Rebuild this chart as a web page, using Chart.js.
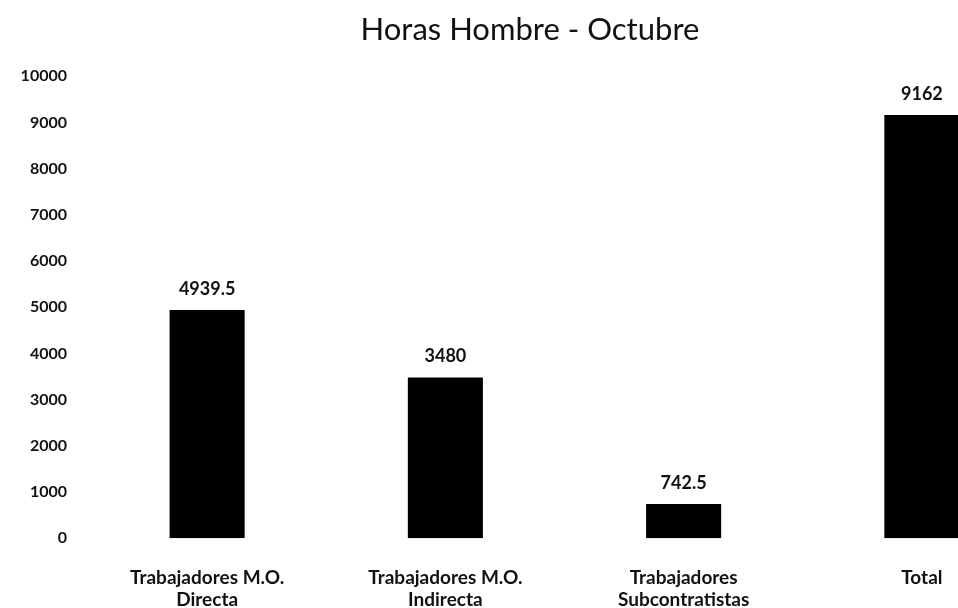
<!DOCTYPE html>
<html lang="es">
<head>
    <meta charset="UTF-8">
    <title>Horas Hombre - Octubre</title>
    <script src="https://cdn.jsdelivr.net/npm/chart.js"></script>
    <style>
        html, body { margin: 0; padding: 0; background: #fff; overflow: hidden; }
        #wrap { width: 1060px; height: 640px; }
    </style>
</head>
<body>
    <div id="wrap"><canvas id="horasChart"></canvas></div>

    <script>
        // datos
        const categorias = [
            ['Trabajadores M.O.', 'Directa'],
            ['Trabajadores M.O.', 'Indirecta'],
            ['Trabajadores', 'Subcontratistas'],
            'Total'
        ];
        const horas = [4939.5, 3480, 742.5, 9162];
        const yTicks = [0, 1000, 2000, 3000, 4000, 5000, 6000, 7000, 8000, 9000, 10000];

        const fuente = "Lato, 'Open Sans', sans-serif";

        // etiquetas de valor encima de cada barra
        const etiquetas = {
            id: 'etiquetas',
            afterDatasetsDraw(chart) {
                const ctx = chart.ctx;
                const meta = chart.getDatasetMeta(0);
                ctx.save();
                ctx.font = 'bold 18px ' + fuente;
                ctx.fillStyle = '#111';
                ctx.textAlign = 'center';
                ctx.textBaseline = 'bottom';
                meta.data.forEach((bar, i) => {
                    ctx.fillText(String(horas[i]), bar.x, bar.y - 12);
                });
                ctx.restore();
            }
        };

        new Chart(document.getElementById('horasChart'), {
            type: 'bar',
            data: {
                labels: categorias,
                datasets: [{
                    data: horas,
                    backgroundColor: '#000',
                    borderWidth: 0,
                    barPercentage: 0.315,
                    categoryPercentage: 1
                }]
            },
            options: {
                responsive: true,
                maintainAspectRatio: false,
                animation: false,
                layout: { padding: { left: 19, right: 19, top: 0, bottom: 0 } },
                plugins: {
                    legend: { display: false },
                    tooltip: { enabled: false },
                    title: {
                        display: true,
                        text: 'Horas Hombre - Octubre',
                        color: '#111',
                        font: { family: fuente, size: 31, weight: 'normal', lineHeight: 1.2 },
                        padding: { top: 11, bottom: 28 }
                    }
                },
                scales: {
                    x: {
                        grid: { display: false, drawTicks: false },
                        border: { display: false },
                        ticks: {
                            color: '#111',
                            padding: 29,
                            maxRotation: 0,
                            font: { family: fuente, size: 19, weight: 'bold', lineHeight: 1.15 }
                        }
                    },
                    y: {
                        min: yTicks[0],
                        max: yTicks[yTicks.length - 1],
                        grid: { display: false, drawTicks: false },
                        border: { display: false },
                        afterBuildTicks(axis) {
                            axis.ticks = yTicks.map(v => ({ value: v }));
                        },
                        afterFit(axis) {
                            axis.width = 69;
                        },
                        ticks: {
                            color: '#111',
                            padding: 21,
                            font: { family: fuente, size: 16, weight: 'bold' },
                            callback: v => String(v)
                        }
                    }
                }
            },
            plugins: [etiquetas]
        });
    </script>
</body>
</html>
